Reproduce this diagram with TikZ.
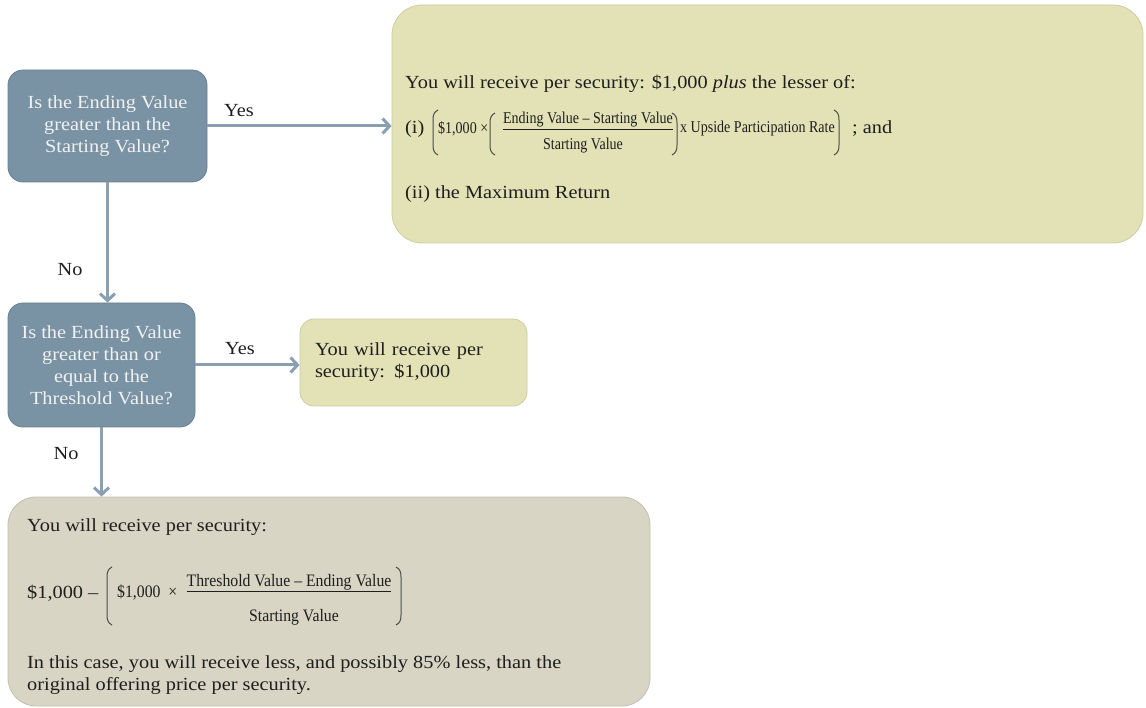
\documentclass[tikz,border=0pt]{standalone}
\usepackage{fontspec}
\setmainfont{Liberation Serif}[FakeStretch=1.1]
\newfontfamily\eqfont{Liberation Serif}[FakeStretch=0.85]
\newfontfamily\eqfontb{Liberation Serif}[FakeStretch=0.9]
\usetikzlibrary{arrows.meta}
\definecolor{qblue}{RGB}{121,146,164}
\definecolor{qedge}{RGB}{105,128,146}
\definecolor{ybox}{RGB}{226,226,182}
\definecolor{yedge}{RGB}{205,205,160}
\definecolor{bbox}{RGB}{216,213,196}
\definecolor{bedge}{RGB}{195,192,175}
\definecolor{arrc}{RGB}{138,160,178}
\definecolor{qtext}{RGB}{242,242,242}
\definecolor{txt}{RGB}{30,30,30}
\newcommand{\bodyf}{\fontsize{18.5}{22}\selectfont}
\newcommand{\eqf}{\eqfont\fontsize{16.5}{22}\selectfont}
\newcommand{\eqfb}{\eqfontb\fontsize{17.5}{22}\selectfont}
\newcommand{\myLP}[3]{\draw[parenline] (#1+5,#2) .. controls (#1+1,#2+2) and (#1,#2+5) .. (#1,#2+10) -- (#1,#3-10) .. controls (#1,#3-5) and (#1+1,#3-2) .. (#1+5,#3);}
\newcommand{\myRP}[3]{\draw[parenline] (#1-5,#2) .. controls (#1-1,#2+2) and (#1,#2+5) .. (#1,#2+10) -- (#1,#3-10) .. controls (#1,#3-5) and (#1-1,#3-2) .. (#1-5,#3);}
\tikzset{
  qbox/.style={draw=qedge, line width=0.8pt, fill=qblue, rounded corners=15pt, text=qtext, align=center, font=\bodyf, inner sep=0pt},
  ybx/.style={draw=yedge, line width=0.8pt, fill=ybox, inner sep=0pt},
  bbx/.style={draw=bedge, line width=0.8pt, fill=bbox, inner sep=0pt},
  arr/.style={draw=arrc, line width=3pt, -{Straight Barb[length=7pt,width=15pt]}},
  lbl/.style={text=txt, font=\bodyf, inner sep=0pt},
  tx/.style={text=txt, font=\bodyf, inner sep=0pt, anchor=west},
  eq/.style={text=txt, font=\eqf, inner sep=0pt},
  eqb/.style={text=txt, font=\eqfb, inner sep=0pt},
  parenline/.style={draw=txt!80, line width=1pt},
}
\begin{document}
\begin{tikzpicture}[x=1pt,y=-1pt]
\useasboundingbox (0,0) rectangle (1146,708);
\fill[white] (0,0) rectangle (1146,708);

% boxes
\node[qbox, minimum width=199pt, minimum height=112pt] (q1) at (107.5,126) {Is the Ending Value\\greater than the\\Starting Value?};
\node[qbox, minimum width=187pt, minimum height=124pt] (q2) at (101.5,365) {Is the Ending Value\\greater than or\\equal to the\\Threshold Value?};
\node[ybx, rounded corners=30pt, minimum width=751pt, minimum height=238pt] (big) at (767.5,124) {};
\node[ybx, rounded corners=14pt, minimum width=227pt, minimum height=87pt, text=txt, font=\bodyf, align=left, text width=197pt] (yes2) at (413.5,362.5) {You will receive per\\security: \$1,000};
\node[bbx, rounded corners=28pt, minimum width=642pt, minimum height=209pt] (bot) at (329,601.5) {};

% connectors
\draw[arr] (q1.east) -- (q1.east -| big.west);
\draw[arr] (q1.south) -- (q1.south |- q2.north);
\draw[arr] (q2.east) -- (q2.east -| yes2.west);
\draw[arr] (q2.south) -- (q2.south |- bot.north);

% labels
\node[lbl] (yes1) at (239,111) {Yes};
\node[lbl] (no1) at (70,270) {No};
\node[lbl] (yes2l) at (240,349) {Yes};
\node[lbl] (no2) at (66,454) {No};

% big box contents
\node[tx] (l1) at (405,84) {You will receive per security: \$1,000 \textit{plus} the lesser of:};
\node[tx] (i1) at (405,129) {(i)};
\myLP{433}{110}{155}
\node[eq, anchor=west] (t1) at (438,129) {\$1,000 ×};
\myLP{490}{113}{155}
\node[eq] (n1) at (588,121) {\underline{Ending Value – Starting Value}};
\node[eq] (d1) at (583,146) {Starting Value};
\myRP{677}{113}{155}
\node[eq, anchor=west] (u1) at (680,129) {x Upside Participation Rate};
\myRP{839}{110}{155}
\node[tx] (and1) at (852,129) {; and};
\node[tx] (ii1) at (405,194) {(ii) the Maximum Return};

% bottom box contents
\node[tx] (b1) at (27,527) {You will receive per security:};
\node[tx] (b2) at (27,593) {\$1,000 –};
\myLP{107}{567}{625}
\node[eqb, anchor=west] (b3) at (117,593) {\$1,000 \ ×};
\node[eqb] (bn) at (289,583) {\underline{Threshold Value – Ending Value}};
\node[eqb] (bd) at (294,617) {Starting Value};
\myRP{401}{567}{625}
\node[tx, anchor=north west, align=left] (b4) at (27,655) {In this case, you will receive less, and possibly 85\% less, than the\\original offering price per security.};
\end{tikzpicture}
\end{document}
